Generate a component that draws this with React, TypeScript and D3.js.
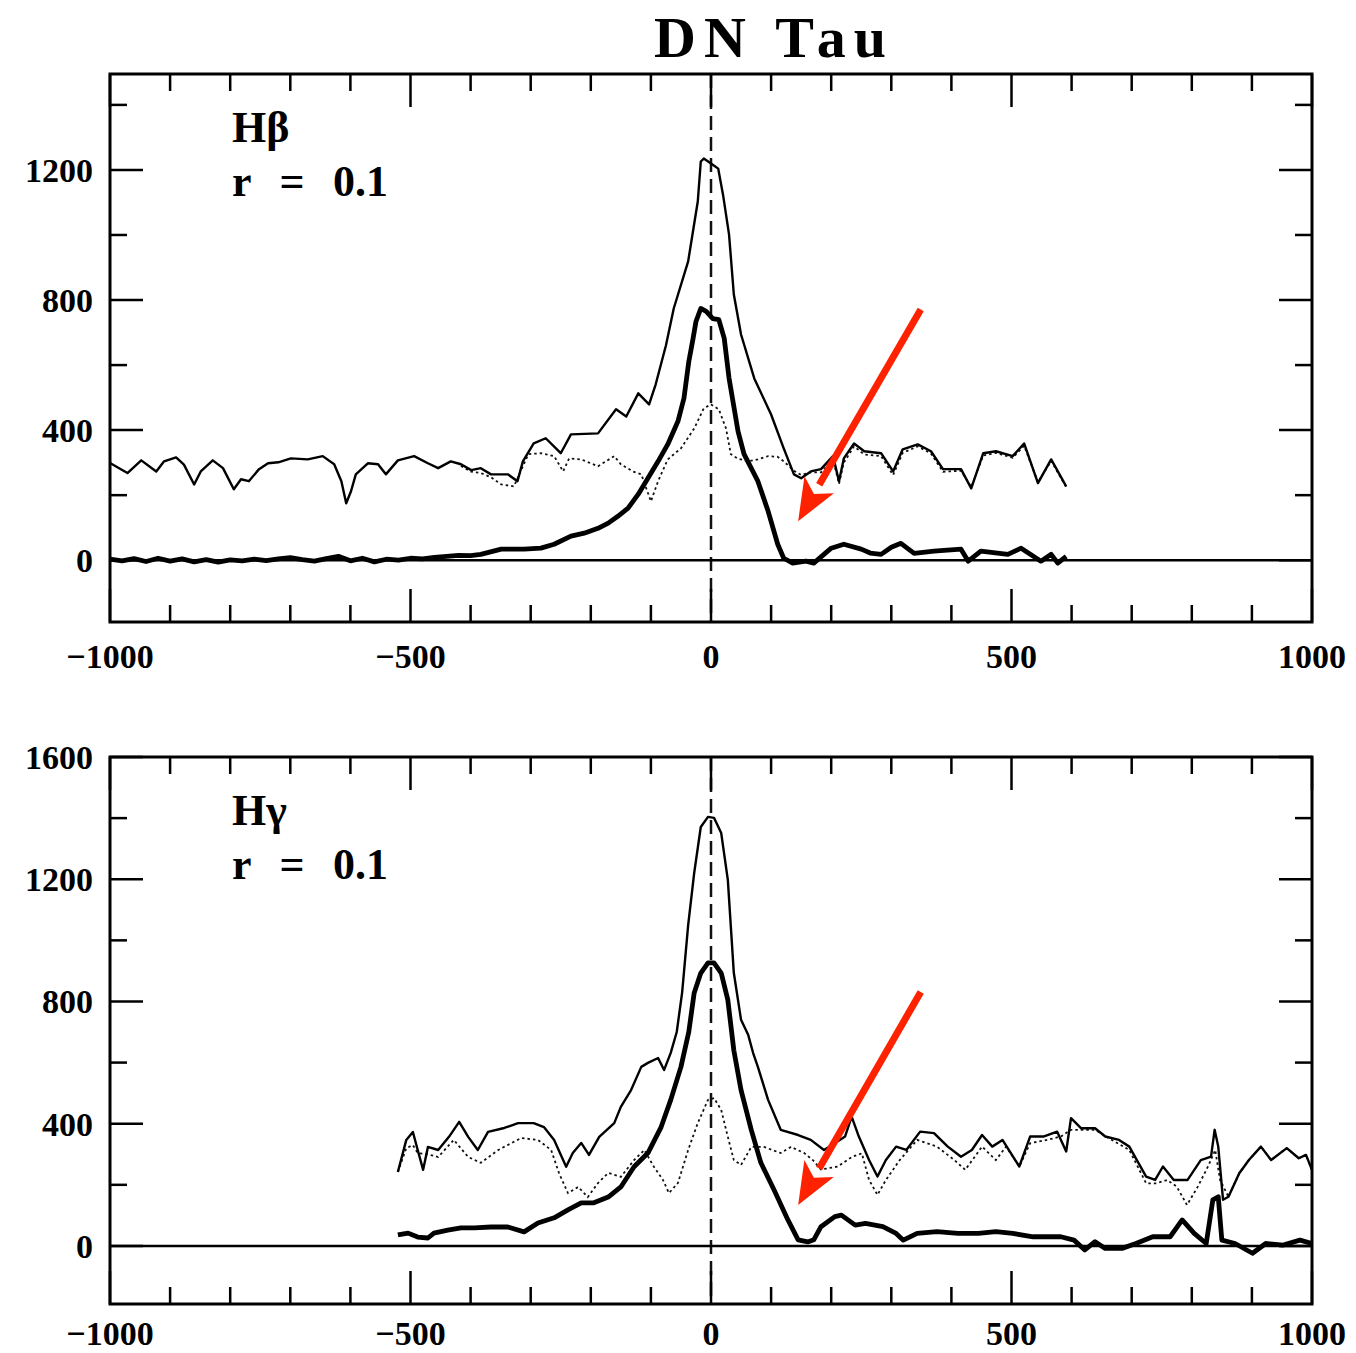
import React from 'react'
import * as d3 from 'd3'

// velocity (km/s), flux
const hbTotal: [number, number][] = [
  [-1000, 299], [-971, 268], [-948, 307], [-923, 273], [-910, 304], [-890, 316], [-877, 294], [-860, 233],
  [-849, 273], [-829, 307], [-812, 283], [-794, 218], [-782, 249], [-769, 243], [-752, 280], [-737, 298],
  [-720, 301], [-699, 313], [-671, 310], [-646, 320], [-627, 295], [-615, 243], [-607, 175], [-599, 212],
  [-591, 264], [-571, 298], [-554, 295], [-541, 264], [-521, 307], [-494, 320], [-471, 298], [-454, 283],
  [-433, 304], [-416, 295], [-399, 277], [-383, 283], [-366, 264], [-338, 264], [-322, 243], [-313, 304],
  [-295, 359], [-275, 375], [-250, 329], [-233, 387], [-188, 390], [-158, 464], [-141, 442], [-121, 513],
  [-103, 479], [-92, 541], [-75, 660], [-62, 774], [-38, 919], [-22, 1103], [-17, 1226], [-12, 1235], [0, 1220],
  [12, 1204], [20, 1124], [30, 1002], [38, 817], [50, 694], [72, 559], [100, 448], [121, 344], [138, 264],
  [150, 252], [166, 273], [183, 280], [203, 320], [213, 243], [221, 313], [238, 359], [255, 335], [283, 329],
  [303, 273], [319, 341], [344, 356], [366, 335], [386, 280], [416, 280], [433, 221], [453, 329], [474, 335],
  [502, 320], [521, 359], [544, 237], [566, 310], [591, 227],
]

const hbTemplate: [number, number][] = [
  [-416, 290], [-399, 272], [-383, 268], [-366, 255], [-349, 233], [-328, 227], [-304, 326], [-283, 329],
  [-261, 320], [-246, 273], [-236, 313], [-216, 310], [-188, 289], [-161, 320], [-150, 295], [-130, 273],
  [-116, 264], [-100, 181], [-88, 243], [-72, 310], [-50, 344], [-28, 405], [-12, 467], [0, 479], [13, 464],
  [25, 405], [33, 326], [45, 312], [62, 304], [78, 310], [95, 320], [111, 318], [121, 304], [138, 275],
  [150, 262], [166, 270], [183, 270], [203, 310], [213, 235], [221, 300], [238, 350], [255, 325], [283, 320],
  [303, 262], [319, 330], [344, 350], [366, 328], [386, 272], [416, 275], [433, 225], [453, 322], [474, 330],
  [502, 315], [521, 352], [544, 240], [566, 305], [591, 225],
]

const hbResidual: [number, number][] = [
  [-1000, 3], [-980, -2], [-960, 5], [-940, -4], [-920, 6], [-900, -3], [-880, 4], [-860, -5], [-840, 2],
  [-820, -6], [-800, 1], [-780, -2], [-760, 3], [-740, -1], [-720, 4], [-700, 8], [-680, 2], [-660, -3],
  [-640, 5], [-620, 12], [-600, -2], [-580, 6], [-560, -5], [-540, 3], [-520, 0], [-500, 6], [-480, 4],
  [-460, 9], [-440, 12], [-420, 15], [-400, 14], [-383, 18], [-349, 34], [-311, 34], [-283, 37], [-261, 49],
  [-233, 74], [-211, 83], [-188, 98], [-171, 114], [-155, 135], [-138, 160], [-121, 203], [-105, 252],
  [-88, 304], [-72, 356], [-55, 427], [-45, 498], [-37, 610], [-30, 680], [-25, 734], [-17, 774], [-8, 765],
  [3, 743], [13, 740], [22, 682], [30, 560], [45, 396], [55, 326], [78, 243], [95, 151], [111, 49], [121, 6],
  [136, -9], [158, -3], [171, -9], [200, 37], [221, 49], [250, 34], [265, 22], [283, 18], [300, 40],
  [316, 52], [338, 21], [371, 28], [416, 34], [428, -3], [449, 28], [494, 18], [516, 37], [549, -3],
  [566, 18], [577, -9], [591, 12],
]

const hgTotal: [number, number][] = [
  [-521, 242], [-507, 347], [-496, 373], [-488, 314], [-479, 249], [-471, 324], [-454, 314], [-436, 357],
  [-419, 406], [-404, 357], [-388, 314], [-371, 373], [-344, 386], [-321, 402], [-295, 402], [-278, 389],
  [-261, 347], [-241, 259], [-230, 304], [-216, 337], [-203, 298], [-186, 357], [-161, 402], [-150, 455],
  [-133, 510], [-116, 586], [-105, 599], [-88, 615], [-78, 576], [-67, 632], [-57, 700], [-48, 830],
  [-38, 1050], [-28, 1220], [-17, 1371], [-5, 1404], [5, 1401], [17, 1351], [28, 1198], [38, 893],
  [50, 740], [62, 690], [70, 632], [78, 586], [95, 478], [116, 380], [145, 363], [166, 347], [188, 314],
  [206, 336], [223, 358], [234, 423], [246, 358], [263, 281], [277, 227], [291, 281], [308, 325], [325, 314],
  [348, 374], [371, 369], [394, 325], [416, 292], [434, 314], [451, 363], [468, 325], [485, 347], [513, 260],
  [531, 358], [553, 358], [576, 374], [591, 309], [599, 418], [616, 385], [639, 385], [656, 358], [679, 347],
  [696, 325], [724, 227], [739, 216], [752, 260], [770, 216], [793, 216], [815, 281], [832, 292], [838, 380],
  [844, 325], [852, 151], [861, 161], [879, 238], [895, 281], [915, 325], [932, 281], [958, 320], [978, 287],
  [990, 298], [1000, 249],
]

const hgTemplate: [number, number][] = [
  [-521, 242], [-507, 320], [-496, 330], [-488, 304], [-471, 300], [-454, 291], [-428, 347], [-404, 291],
  [-383, 272], [-354, 314], [-316, 353], [-288, 347], [-266, 314], [-253, 239], [-238, 173], [-221, 193],
  [-205, 160], [-188, 206], [-171, 239], [-150, 226], [-128, 281], [-111, 314], [-95, 259], [-80, 216],
  [-70, 173], [-55, 206], [-38, 314], [-22, 402], [-5, 478], [5, 484], [17, 445], [28, 357], [38, 281],
  [50, 265], [67, 324], [88, 324], [116, 304], [133, 324], [155, 304], [170, 280], [183, 250], [211, 260],
  [235, 292], [251, 303], [263, 216], [277, 167], [291, 216], [314, 281], [343, 347], [376, 325], [405, 281],
  [423, 249], [451, 325], [474, 281], [491, 325], [513, 260], [531, 336], [559, 347], [582, 358], [599, 380],
  [616, 380], [639, 380], [667, 347], [696, 314], [724, 205], [741, 205], [759, 216], [775, 194], [792, 134],
  [810, 194], [827, 260], [839, 314], [847, 216], [861, 161], [879, 238], [895, 281], [915, 325], [932, 281],
  [958, 320], [978, 287], [990, 298], [1000, 249],
]

const hgResidual: [number, number][] = [
  [-521, 36], [-504, 42], [-488, 29], [-471, 26], [-461, 42], [-438, 52], [-416, 59], [-394, 59], [-366, 62],
  [-338, 62], [-311, 46], [-288, 75], [-261, 92], [-238, 118], [-216, 141], [-195, 141], [-171, 160],
  [-150, 193], [-128, 259], [-105, 304], [-83, 389], [-67, 478], [-50, 586], [-37, 700], [-28, 828],
  [-17, 893], [-5, 926], [5, 926], [17, 893], [28, 805], [38, 640], [50, 510], [67, 380], [83, 272],
  [105, 183], [128, 85], [145, 20], [161, 13], [171, 20], [183, 63], [206, 96], [217, 101], [240, 68],
  [257, 74], [286, 63], [308, 41], [320, 19], [343, 41], [376, 47], [411, 41], [445, 41], [474, 47],
  [502, 41], [536, 30], [582, 30], [604, 19], [622, -13], [639, 14], [656, -8], [684, -8], [707, 8],
  [735, 30], [764, 30], [784, 85], [804, 41], [824, 8], [835, 151], [844, 161], [850, 19], [872, 8],
  [901, -24], [923, 8], [952, 3], [980, 19], [1000, 8],
]

const xLabels = [-1000, -500, 0, 500, 1000]
const hbYLabels = [0, 400, 800, 1200]
const hgYLabels = [0, 400, 800, 1200, 1600]

// red arrows: [tail, tip] in data units
const hbArrow: [number, number][] = [[349, 771], [145, 120]]
const hgArrow: [number, number][] = [[349, 831], [145, 134]]

const FONT = '"Liberation Serif", "Times New Roman", serif'
const X0 = 110
const X1 = 1312

type PanelProps = {
  top: number
  bottom: number
  yDomain: [number, number]
  yLabels: number[]
  line: string
  labelGap: number
  total: [number, number][]
  template: [number, number][]
  residual: [number, number][]
  arrow: [number, number][]
}

function Panel(props: PanelProps) {
  const { top, bottom, yDomain, yLabels, line, labelGap, total, template, residual, arrow } = props
  const x = d3.scaleLinear().domain([-1000, 1000]).range([X0, X1])
  const y = d3.scaleLinear().domain(yDomain).range([bottom, top])
  const path = d3.line<[number, number]>().x(d => x(d[0])).y(d => y(d[1]))

  const xt = x.ticks(20)
  const yt = y.ticks(8)

  // arrow geometry
  const [tail, tip] = arrow
  const tx = x(tail[0]), ty = y(tail[1]), px = x(tip[0]), py = y(tip[1])
  const ang = Math.atan2(py - ty, px - tx)
  const hl = 42, hw = 17
  const cos = Math.cos(ang), sin = Math.sin(ang)
  const bx = px - hl * cos, by = py - hl * sin
  const nx = -sin, ny = cos
  const head = `M${px},${py}L${bx + nx * hw},${by + ny * hw}L${px - 0.75 * hl * cos},${py - 0.75 * hl * sin}L${bx - nx * hw},${by - ny * hw}Z`

  return (
    <g>
      <line x1={x(0)} x2={x(0)} y1={top} y2={bottom} stroke="#111" strokeWidth={2.5} strokeDasharray="14,7" />
      <line x1={X0} x2={X1} y1={y(0)} y2={y(0)} stroke="#000" strokeWidth={2.5} />
      {xt.map(v => {
        const len = v % 500 === 0 ? 33 : 17
        return (
          <g key={'x' + v}>
            <line x1={x(v)} x2={x(v)} y1={top} y2={top + len} stroke="#000" strokeWidth={2.5} />
            <line x1={x(v)} x2={x(v)} y1={bottom} y2={bottom - len} stroke="#000" strokeWidth={2.5} />
          </g>
        )
      })}
      {yt.map(v => {
        const len = v % 400 === 0 ? 33 : 17
        return (
          <g key={'y' + v}>
            <line x1={X0} x2={X0 + len} y1={y(v)} y2={y(v)} stroke="#000" strokeWidth={2.5} />
            <line x1={X1} x2={X1 - len} y1={y(v)} y2={y(v)} stroke="#000" strokeWidth={2.5} />
          </g>
        )
      })}
      <path d={path(template) || ''} fill="none" stroke="#111" strokeWidth={1.8} strokeDasharray="2.5,3" />
      <path d={path(total) || ''} fill="none" stroke="#000" strokeWidth={2.4} strokeLinejoin="round" />
      <path d={path(residual) || ''} fill="none" stroke="#000" strokeWidth={4.8} strokeLinejoin="round" />
      <rect x={X0} y={top} width={X1 - X0} height={bottom - top} fill="none" stroke="#000" strokeWidth={3} />
      {xLabels.map(v => (
        <text key={'xl' + v} x={x(v)} y={bottom + labelGap} textAnchor="middle" fontSize={34} fontWeight="bold" fontFamily={FONT}>
          {v < 0 ? '\u2212' + Math.abs(v) : v}
        </text>
      ))}
      {yLabels.map(v => (
        <text key={'yl' + v} x={93} y={y(v) + 12} textAnchor="end" fontSize={34} fontWeight="bold" fontFamily={FONT}>
          {v}
        </text>
      ))}
      <text x={232} y={top + 68} fontSize={44} fontWeight="bold" fontFamily={FONT}>{line}</text>
      <text x={232} y={top + 122} fontSize={44} fontWeight="bold" fontFamily={FONT}>r</text>
      <text x={292} y={top + 122} fontSize={44} fontWeight="bold" fontFamily={FONT} textAnchor="middle">=</text>
      <text x={333} y={top + 122} fontSize={44} fontWeight="bold" fontFamily={FONT}>0.1</text>
      <line x1={tx} y1={ty} x2={bx} y2={by} stroke="#ff2200" strokeWidth={7} />
      <path d={head} fill="#ff2200" />
    </g>
  )
}

export default function App() {
  return (
    <svg width={1356} height={1353} style={{ position: 'absolute', left: 0, top: 0, background: '#fff' }}>
      <rect width={1356} height={1353} fill="#fff" />
      <text x={770} y={57} textAnchor="middle" fontSize={58} fontWeight="bold" fontFamily={FONT} textLength={232}>
        DN  Tau
      </text>
      <Panel top={74} bottom={622} yDomain={[-190, 1495]} yLabels={hbYLabels} line="Hβ" labelGap={46}
        total={hbTotal} template={hbTemplate} residual={hbResidual} arrow={hbArrow} />
      <Panel top={757} bottom={1304} yDomain={[-190, 1600]} yLabels={hgYLabels} line="Hγ" labelGap={41}
        total={hgTotal} template={hgTemplate} residual={hgResidual} arrow={hgArrow} />
    </svg>
  )
}
